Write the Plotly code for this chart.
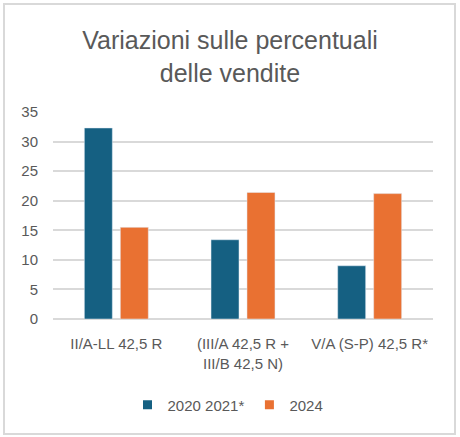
import plotly.graph_objects as go

categories = ["II/A-LL 42,5 R", "(III/A 42,5 R +<br>III/B 42,5 N)", "V/A (S-P) 42,5 R*"]
series_2020_2021 = [32.3, 13.4, 9.0]
series_2024 = [15.5, 21.4, 21.2]
series_names = ["2020 2021*", "2024"]
colors = ["#156082", "#E97132"]
y_ticks = [0, 5, 10, 15, 20, 25, 30, 35]

W, H = 460, 437
L, R, T, B = 53, 27, 112, 118
pw, ph = W - L - R, H - T - B

def px_x(p):
    return (p - L) / pw

def px_y(p):
    return (H - B - p) / ph

FONT = "Liberation Sans"
GRAY = "#595959"

fig = go.Figure()
for vals, name, col in zip([series_2020_2021, series_2024], series_names, colors):
    fig.add_bar(x=categories, y=vals, name=name, marker_color=col, showlegend=False,
                legendgroup=name)
for name, col in zip(series_names, colors):
    fig.add_scatter(x=[None], y=[None], mode="markers", name=name, legendgroup=name,
                    marker=dict(symbol="square", size=9, color=col))

fig.update_layout(
    width=W, height=H,
    margin=dict(l=L, r=R, t=T, b=B, pad=0, autoexpand=False),
    paper_bgcolor="white", plot_bgcolor="white",
    barmode="group", bargap=0.432, bargroupgap=0.222,
    font=dict(family=FONT, color=GRAY, size=14),
    title=dict(text="Variazioni sulle percentuali<br>delle vendite",
               x=0.5, xref="container", xanchor="center",
               y=1 - 49 / H, yref="container", yanchor="middle",
               font=dict(family=FONT, size=25, color=GRAY)),
    showlegend=True,
    legend=dict(orientation="h", x=px_x(228), xanchor="center",
                y=px_y(405), yanchor="middle",
                font=dict(size=15, color=GRAY), itemwidth=30, traceorder="normal"),
    xaxis=dict(type="category", showgrid=False, showline=False, zeroline=False,
               tickfont=dict(size=15, color=GRAY), ticklabelstandoff=14, tickangle=0,
               automargin=False),
    yaxis=dict(range=[0, 35], tickvals=y_ticks, showgrid=True, gridcolor="#d9d9d9", gridwidth=1.5,
               zeroline=True, zerolinecolor="#d9d9d9", zerolinewidth=1.5, showline=False,
               tickfont=dict(size=15, color=GRAY), ticklabelstandoff=14, automargin=False),
    shapes=[dict(type="rect", xref="paper", yref="paper",
                 x0=px_x(4), x1=px_x(455), y0=px_y(434), y1=px_y(4),
                 line=dict(color="#d9d9d9", width=2), fillcolor="rgba(0,0,0,0)", layer="below")],
)

fig.write_html("out.html", config={"displayModeBar": False},
               post_script="document.body.style.margin='0';")
